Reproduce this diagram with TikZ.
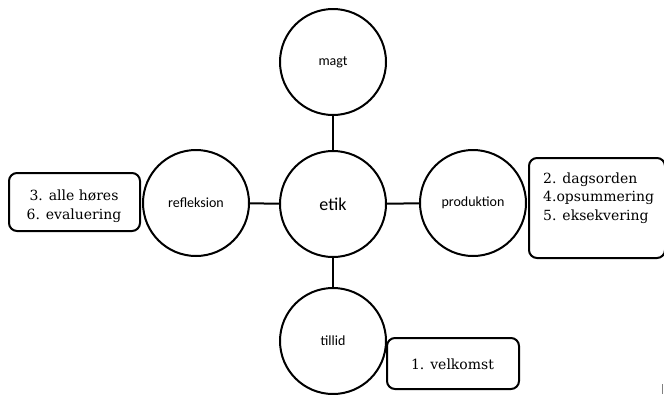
\documentclass[tikz,border=0pt]{standalone}
\usepackage{fontspec}
\setmainfont{DejaVu Serif}
\newfontfamily\circfont{Carlito}
\begin{document}
\begin{tikzpicture}[x=1pt,y=-1pt,
  circ/.style={circle,draw,line width=2pt,minimum size=106pt,inner sep=0pt,font=\circfont\fontsize{14}{16}\selectfont},
  box/.style={draw,line width=2pt,rounded corners=8pt,inner sep=0pt},
  boxtext/.style={inner sep=0pt,font=\fontsize{14}{19}\selectfont},
  link/.style={line width=2pt}]
\useasboundingbox (0,0) rectangle (664,394);
\node[circ] (magt) at (333,62) {magt};
\node[circ,font=\circfont\fontsize{18}{20}\selectfont] (etik) at (333,204) {etik};
\node[circ] (tillid) at (333,341) {tillid};
\node[circ] (refl) at (196,203) {refleksion};
\node[circ] (prod) at (473,203) {produktion};
\draw[link] (magt) -- (etik);
\draw[link] (etik) -- (tillid);
\draw[link] (refl) -- (etik);
\draw[link] (etik) -- (prod);
\node[box,minimum width=131pt,minimum height=58pt] (b1) at (74.5,202) {};
\node[boxtext,anchor=base] (t1a) at (74,200) {3. alle høres};
\node[boxtext,anchor=base] (t1b) at (74,219) {6. evaluering};
\node[box,minimum width=136pt,minimum height=100pt,anchor=north west] (b2) at (528,157) {};
\node[boxtext,anchor=base west] (t2a) at (543,183) {2. dagsorden};
\node[boxtext,anchor=base west] (t2b) at (543,201.5) {4.opsummering};
\node[boxtext,anchor=base west] (t2c) at (543,220) {5. eksekvering};
\node[box,minimum width=132pt,minimum height=51pt] (b3) at (453,363.5) {};
\node[boxtext,anchor=base] (t3) at (452.5,369) {1. velkomst};
\coordinate (m1) at (662,384);
\coordinate (m2) at (662,394);
\draw[line width=1pt,gray] (m1) -- (m2);
\end{tikzpicture}
\end{document}
